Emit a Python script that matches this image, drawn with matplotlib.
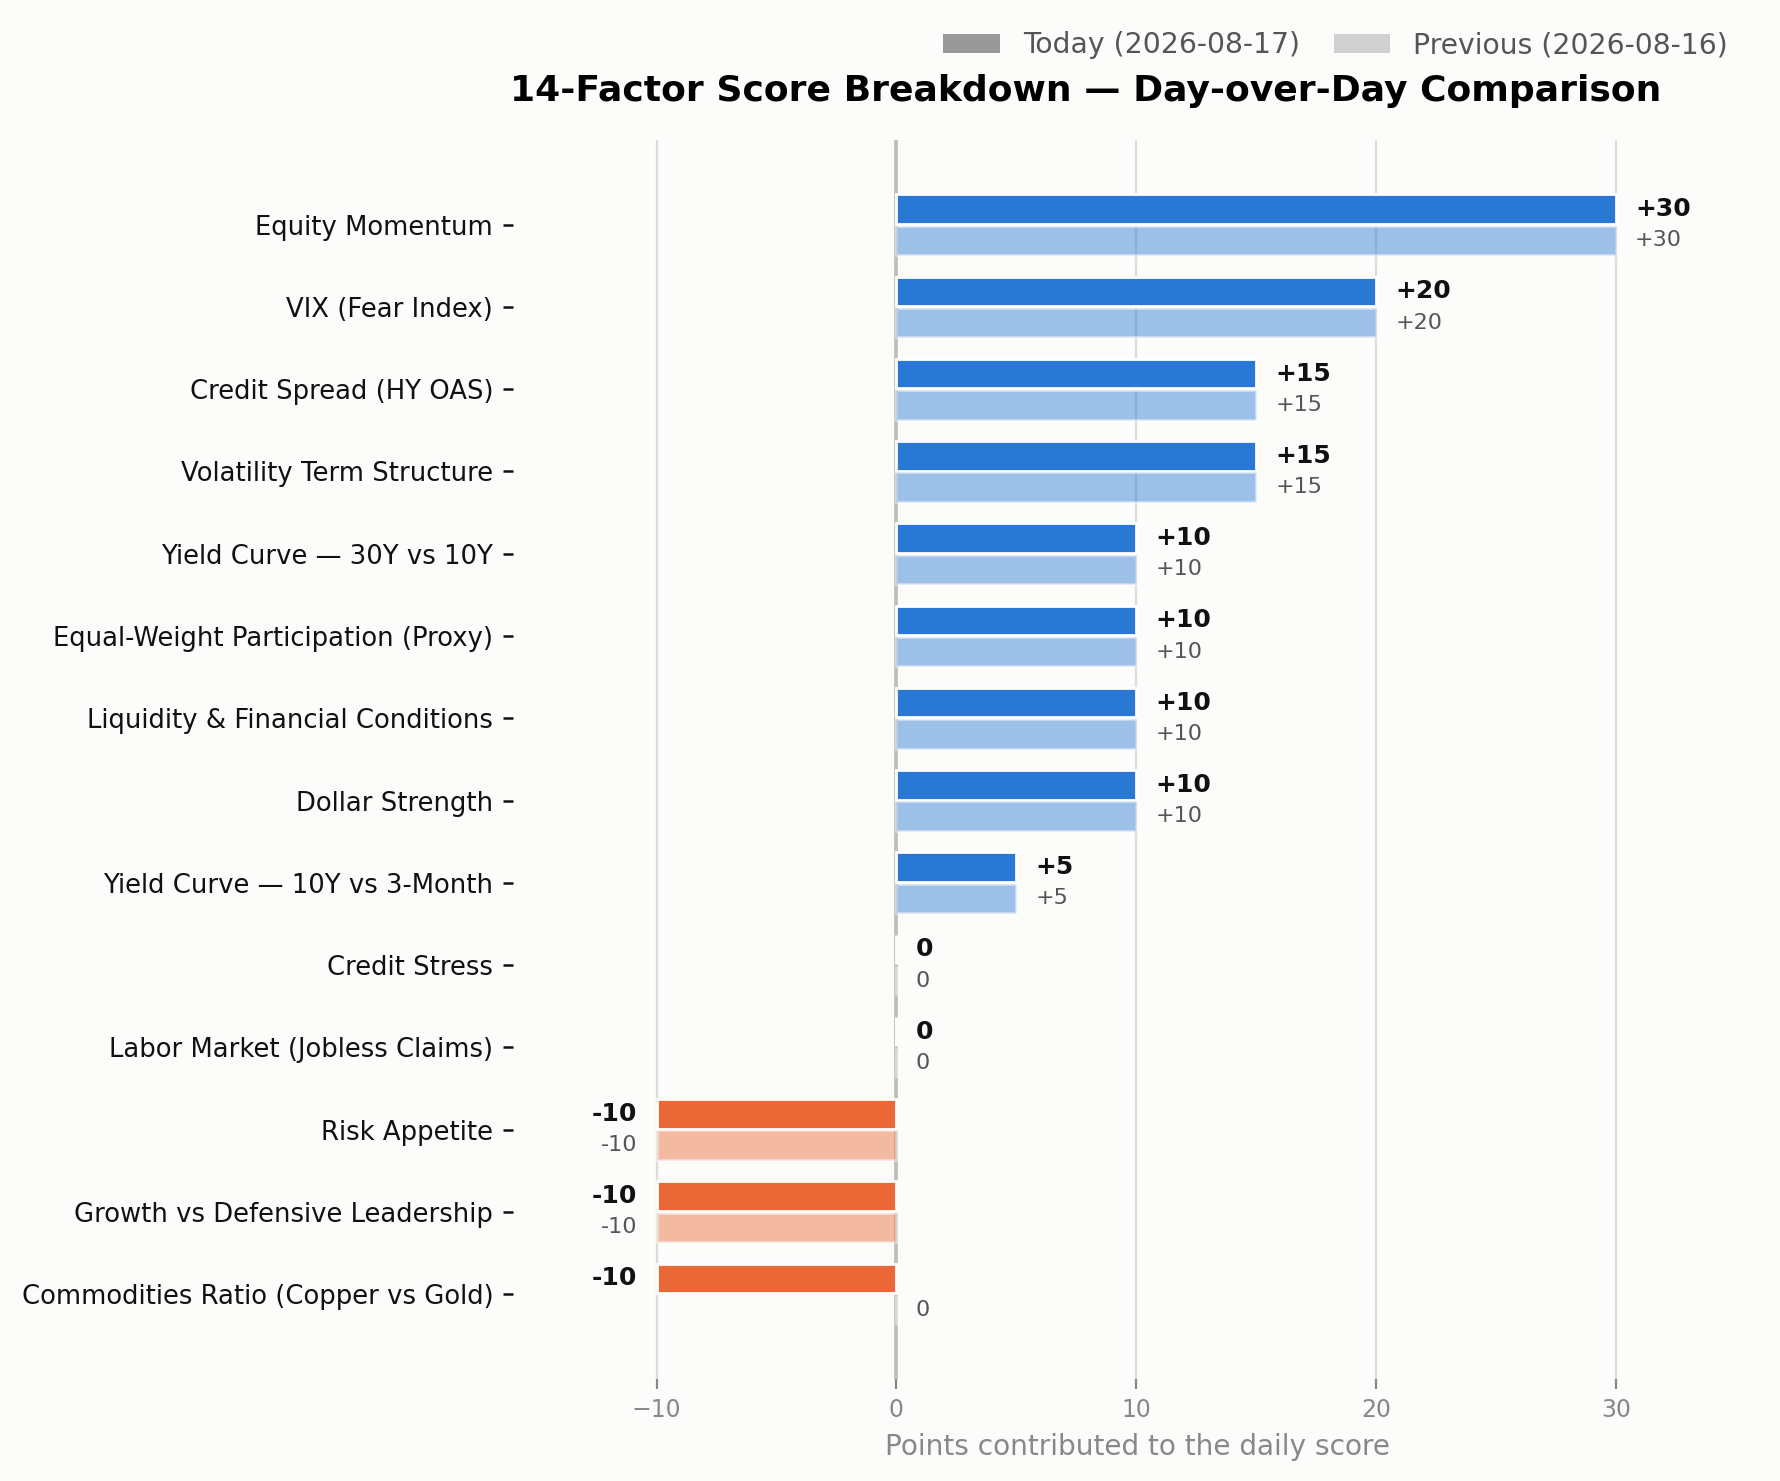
import matplotlib
matplotlib.use('Agg')

import numpy as np
import matplotlib.pyplot as plt
from matplotlib.patches import Patch

# factor names, top to bottom
factors = [
    "Equity Momentum",
    "VIX (Fear Index)",
    "Credit Spread (HY OAS)",
    "Volatility Term Structure",
    "Yield Curve \u2014 30Y vs 10Y",
    "Equal-Weight Participation (Proxy)",
    "Liquidity & Financial Conditions",
    "Dollar Strength",
    "Yield Curve \u2014 10Y vs 3-Month",
    "Credit Stress",
    "Labor Market (Jobless Claims)",
    "Risk Appetite",
    "Growth vs Defensive Leadership",
    "Commodities Ratio (Copper vs Gold)",
]
today = [30, 20, 15, 15, 10, 10, 10, 10, 5, 0, 0, -10, -10, -10]
previous = [30, 20, 15, 15, 10, 10, 10, 10, 5, 0, 0, -10, -10, 0]
xticks = [-10, 0, 10, 20, 30]

today_label = "Today (2026-08-17)"
prev_label = "Previous (2026-08-16)"

BG = "#fcfcfa"
BLUE = "#2a78d6"
ORANGE = "#ea6835"

fig = plt.figure(figsize=(8.9, 7.405), dpi=200, facecolor=BG)
ax = fig.add_axes([0.288, 0.069, 0.644, 0.8365])
ax.set_facecolor(BG)

y = np.arange(len(factors))
h = 0.36
off = 0.19


def col(v):
    return ORANGE if v < 0 else BLUE


ax.barh(y - off, today, height=h, color=[col(v) for v in today],
        edgecolor="white", linewidth=1.0, zorder=3)
ax.barh(y + off, previous, height=h, color=[col(v) for v in previous],
        alpha=0.45, edgecolor="white", linewidth=1.0, zorder=3)


def fmt(v):
    return f"+{v}" if v > 0 else str(v)


for i in range(len(factors)):
    t = today[i]
    p = previous[i]
    if t < 0:
        ax.text(t - 0.8, i - off, fmt(t), ha="right", va="center",
                fontsize=9, fontweight="bold", color="#111111", zorder=4)
    else:
        ax.text(t + 0.8, i - off, fmt(t), ha="left", va="center",
                fontsize=9, fontweight="bold", color="#111111", zorder=4)
    if p < 0:
        ax.text(p - 0.8, i + off, fmt(p), ha="right", va="center",
                fontsize=8, color="#555555", zorder=4)
    else:
        ax.text(p + 0.8, i + off, fmt(p), ha="left", va="center",
                fontsize=8, color="#555555", zorder=4)

ax.axvline(0, color="#bdbdb4", linewidth=1.3, zorder=2)
for xv in xticks:
    if xv != 0:
        ax.axvline(xv, color="#dcdcdc", linewidth=0.8, zorder=1)

ax.set_yticks(y)
ax.set_yticklabels(factors, fontsize=9.3, color="#111111")
ax.set_ylim(len(factors) - 1 + 1.03, -1.03)
ax.set_xlim(-16, 31.8)
ax.set_xticks(xticks)
ax.set_xticklabels(["\u221210", "0", "10", "20", "30"])
ax.tick_params(axis="x", colors="#888888", labelsize=8.5, length=3.5)
ax.tick_params(axis="y", color="#111111", length=3.5, width=0.9)
ax.set_xlabel("Points contributed to the daily score", fontsize=10.1,
              color="#888888", labelpad=4, x=0.545)

for s in ax.spines.values():
    s.set_visible(False)

ax.set_title("14-Factor Score Breakdown \u2014 Day-over-Day Comparison",
             fontsize=13, fontweight="bold", pad=14)

handles = [Patch(facecolor="#999999", label=today_label),
           Patch(facecolor="#d0d0d0", label=prev_label)]
leg = fig.legend(handles=handles, loc="upper right", bbox_to_anchor=(0.985, 0.996),
                 ncol=2, frameon=False, fontsize=10.2, columnspacing=1.2)
for txt in leg.get_texts():
    txt.set_color("#555555")

fig.savefig("out.png", dpi=200, facecolor=BG)
